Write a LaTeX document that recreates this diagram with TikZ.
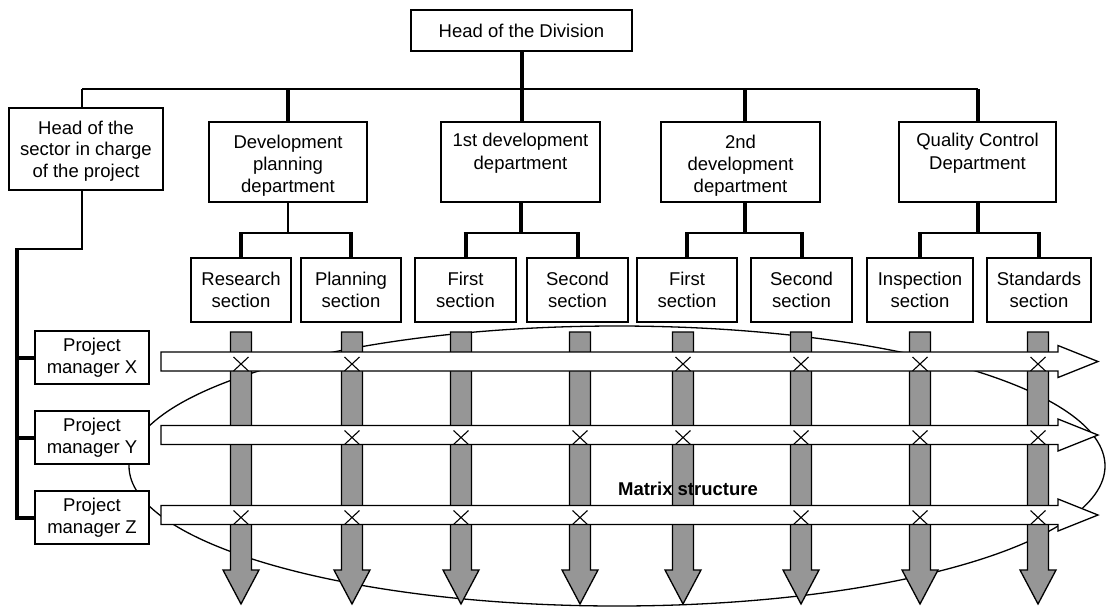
\documentclass[tikz,border=0pt]{standalone}
\usepackage{fontspec}
\setmainfont{Liberation Sans}
\definecolor{barfill}{RGB}{150,150,150}
\newcommand{\toppad}[1]{\rule{0pt}{#1}}
\begin{document}
\begin{tikzpicture}[x=1pt,y=-1pt,
  box/.style={draw, line width=1.3pt, fill=white, align=center, inner sep=0pt,
    font=\fontsize{18.5}{21.5}\selectfont},
  deptbox/.style={box, font=\fontsize{18.5}{22.3}\selectfont},
  thinln/.style={line width=1.4pt},
  thickln/.style={line width=4pt},
  colarrow/.style={draw, line width=1.3pt, fill=barfill, line join=miter},
  rowarrow/.style={draw, line width=1.3pt, fill=white, line join=miter},
  xmark/.style={line width=1.1pt},
  ellipseln/.style={line width=1.3pt},
  lbl/.style={font=\bfseries\fontsize{18.5}{21.5}\selectfont, inner sep=0pt}
]
\useasboundingbox (0,0) rectangle (1106,606);

% matrix ellipse
\draw[ellipseln] (617,466) ellipse [x radius=488pt, y radius=140pt];

% vertical (department) arrows
\foreach \c in {241,352,461,580,683,801,920,1038}
  \draw[colarrow] (\c-10.5,332) -- (\c+10.5,332) -- (\c+10.5,570) -- (\c+18,570)
    -- (\c,604) -- (\c-18,570) -- (\c-10.5,570) -- cycle;

% horizontal (project) arrows
\foreach \r in {361.5,435,515}
  \draw[rowarrow] (161,\r-9.5) -- (1058,\r-9.5) -- (1058,\r-16) -- (1098,\r)
    -- (1058,\r+16) -- (1058,\r+9.5) -- (161,\r+9.5) -- cycle;

% crossing marks
\foreach \c in {241,352,683,801,920,1038}
  \draw[xmark] (\c-7.5,361.5-4.5) -- (\c+7.5,361.5+9.5) (\c-7.5,361.5+9.5) -- (\c+7.5,361.5-4.5);
\foreach \c in {352,461,580,683,801,920,1038}
  \draw[xmark] (\c-7.5,435-4.5) -- (\c+7.5,435+9.5) (\c-7.5,435+9.5) -- (\c+7.5,435-4.5);
\foreach \c in {241,352,461,580,801,920,1038}
  \draw[xmark] (\c-7.5,515-4.5) -- (\c+7.5,515+9.5) (\c-7.5,515+9.5) -- (\c+7.5,515-4.5);

\node[lbl, anchor=center] (ms) at (688,489) {Matrix structure};

% boxes
\node[box, minimum width=221pt, minimum height=41pt] (hd) at (521.5,30.5) {Head of the Division};
\node[box, minimum width=154pt, minimum height=82pt] (hs) at (86,149) {\toppad{17.5pt}Head of the\\sector in charge\\of the project};
\node[deptbox, minimum width=158pt, minimum height=80pt] (dp) at (288,162) {\toppad{21pt}Development\\planning\\department};
\node[deptbox, minimum width=159pt, minimum height=80pt] (d1) at (520.5,162) {\toppad{21pt}1st development\\department\\\strut};
\node[deptbox, minimum width=159pt, minimum height=80pt] (d2) at (740.5,162) {\toppad{21pt}2nd\\development\\department};
\node[deptbox, minimum width=157pt, minimum height=80pt] (qc) at (977.5,162) {\toppad{21pt}Quality Control\\Department\\\strut};

\node[box, minimum width=100pt, minimum height=64pt] (rs) at (241,290) {Research\\section};
\node[box, minimum width=100pt, minimum height=64pt] (ps) at (351,290) {Planning\\section};
\node[box, minimum width=101pt, minimum height=64pt] (f1) at (465.5,290) {First\\section};
\node[box, minimum width=101pt, minimum height=64pt] (s1) at (577.5,290) {Second\\section};
\node[box, minimum width=100pt, minimum height=64pt] (f2) at (687,290) {First\\section};
\node[box, minimum width=101pt, minimum height=64pt] (s2) at (801.5,290) {Second\\section};
\node[box, minimum width=106pt, minimum height=64pt] (is) at (920,290) {Inspection\\section};
\node[box, minimum width=104pt, minimum height=64pt] (ss) at (1039,290) {Standards\\section};

\node[box, minimum width=114pt, minimum height=53pt] (px) at (92,357.5) {Project\\manager X};
\node[box, minimum width=114pt, minimum height=53pt] (py) at (92,437.5) {Project\\manager Y};
\node[box, minimum width=114pt, minimum height=53pt] (pz) at (92,517.5) {Project\\manager Z};

% junction coordinates
\coordinate (ml) at (0,89);
\coordinate (bh) at (0,233);
\coordinate (hsj) at (82,89);
\coordinate (d2j) at (745,0);
\coordinate (lc) at (82,249);
\coordinate (lb) at (17,249);

% top level connectors
\draw[thinln] (hsj) -- (qc.north |- ml);
\draw[thinln] (hsj) -- (hsj |- hs.north);
\draw[thickln] (hd.south) -- (hd.south |- d1.north);
\draw[thickln] (dp.north |- ml) -- (dp.north);
\draw[thickln] (d2j |- ml) -- (d2j |- d2.north);
\draw[thickln] (qc.north |- ml) -- (qc.north);

% department to sections
\draw[thinln] (dp.south) -- (dp.south |- bh);
\draw[thickln] (d1.south) -- (d1.south |- bh);
\draw[thickln] (d2j |- d2.south) -- (d2j |- bh);
\draw[thickln] (qc.south) -- (qc.south |- bh);
\draw[thinln] ([xshift=-2pt]rs.north |- bh) -- ([xshift=2pt]ps.north |- bh);
\draw[thinln] ([xshift=-2pt]f1.north |- bh) -- ([xshift=2pt]s1.north |- bh);
\draw[thinln] ([xshift=-2pt]f2.north |- bh) -- ([xshift=2pt]s2.north |- bh);
\draw[thinln] ([xshift=-2pt]is.north |- bh) -- ([xshift=2pt]ss.north |- bh);
\foreach \s in {rs,ps,f1,s1,f2,s2,is,ss}
  \draw[thickln] ([yshift=0.7pt]\s.north |- bh) -- (\s.north);

% sector head to project managers
\draw[thinln] (lc |- hs.south) -- (lc) -- ([xshift=-2pt]lb);
\draw[thickln, line join=miter] (lb) -- (lb |- pz.west) -- (pz.west);
\draw[thickln] (lb |- px.west) -- (px.west);
\draw[thickln] (lb |- py.west) -- (py.west);
\end{tikzpicture}
\end{document}
